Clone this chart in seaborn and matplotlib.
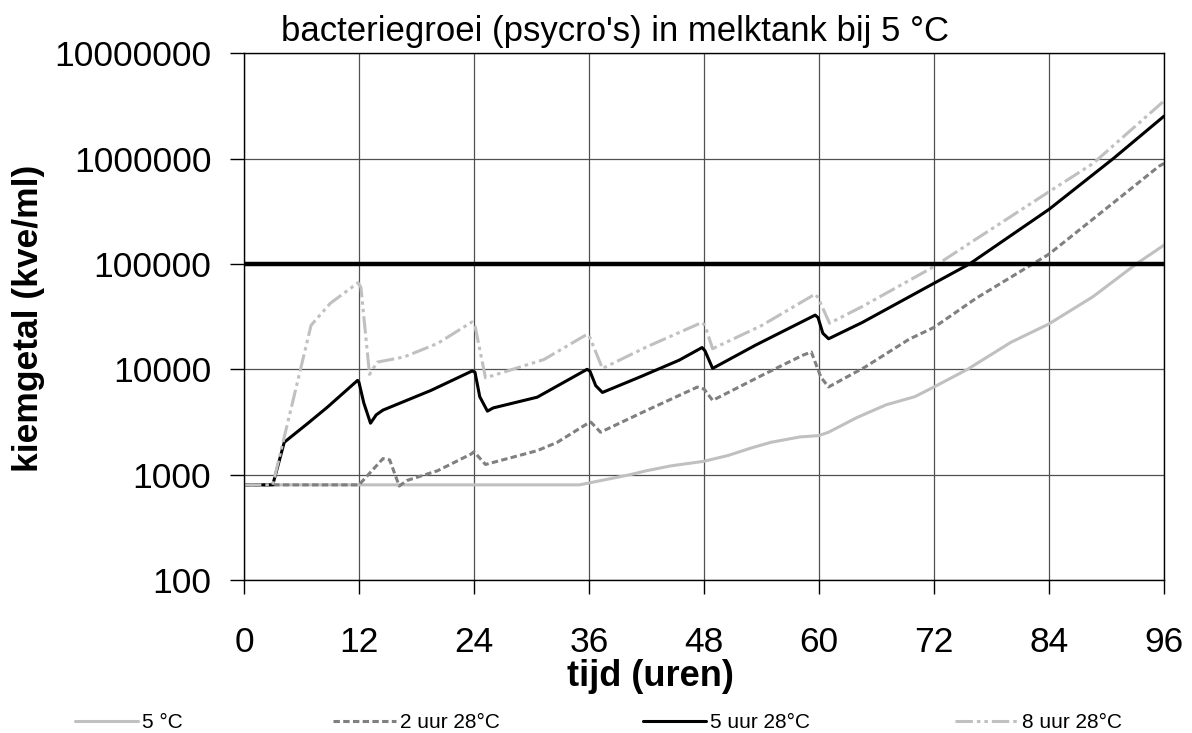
import matplotlib
matplotlib.use("Agg")
import matplotlib.pyplot as plt
import seaborn as sns
import numpy as np
from matplotlib.lines import Line2D
from matplotlib.ticker import NullLocator

# ---------------- data ----------------
title = "bacteriegroei (psycro's) in melktank bij 5 °C"
xlabel = "tijd (uren)"
ylabel = "kiemgetal (kve/ml)"
x_ticks = [0, 12, 24, 36, 48, 60, 72, 84, 96]
y_ticks = [100, 1000, 10000, 100000, 1000000, 10000000]
y_tick_labels = ["100", "1000", "10000", "100000", "1000000", "10000000"]

labels = ["5 °C", "2 uur 28°C", "5 uur 28°C", "8 uur 28°C"]

h_5c = [0, 35, 37, 40.3, 42, 44.5, 48, 50.5, 53, 55, 58, 60, 61, 64, 67, 70,
        72, 75.5, 80, 84, 88.6, 93.1, 96]
v_5c = [800, 800, 870, 1000, 1090, 1210, 1340, 1520, 1800, 2030, 2280, 2350,
        2530, 3500, 4600, 5500, 6800, 10000, 18000, 27000, 49000, 100000, 151000]

h_2u = [0, 12, 14.5, 15.2, 16.2, 17, 20.2, 23.7, 24, 25.2, 30.6, 32.7, 35.8,
        36.2, 37.2, 42, 47.3, 48, 48.9, 54.4, 58.3, 59.2, 60.2, 61, 64.8, 69.4,
        72, 76.4, 82.3, 84, 88.9, 95.5, 96]
v_2u = [800, 800, 1420, 1380, 780, 880, 1090, 1570, 1650, 1250, 1690, 2030, 3040,
        3150, 2530, 4070, 6780, 6500, 5070, 9100, 13600, 14600, 8400, 6800, 10500,
        19300, 25000, 47300, 100000, 124000, 281000, 850000, 900000]

h_5u = [0, 3.0, 4.2, 6.6, 8.7, 11.85, 12.0, 12.5, 13.2, 13.8, 14.5, 19.5, 23.8,
        24.1, 24.6, 25.4, 26.0, 30.6, 35.8, 36.1, 36.7, 37.4, 41.3, 45.4, 47.8,
        48.1, 48.9, 53.4, 59.6, 59.9, 60.4, 61, 64.5, 72, 75.7, 84, 90.7, 96]
v_5u = [800, 800, 2030, 3040, 4370, 7850, 7500, 4800, 3080, 3700, 4100, 6300, 9640,
        9400, 5500, 4010, 4300, 5440, 10000, 9600, 7000, 6030, 8450, 12200, 16100,
        15000, 10200, 17000, 32700, 31000, 22000, 19500, 27800, 65600, 100000,
        330000, 1000000, 2530000]

h_8u = [0, 3.0, 7.0, 9, 11.9, 12.2, 13.1, 13.9, 16.7, 20.2, 23.8, 24.1, 25.2,
        31.3, 35.8, 36.1, 37.4, 42, 47.8, 48.1, 48.9, 54, 59.6, 59.9, 61.1, 64.5,
        72, 75.7, 84, 88.6, 96]
v_8u = [800, 800, 26200, 42300, 66400, 60000, 8950, 11700, 13100, 17600, 28200,
        26000, 8300, 12400, 21500, 20000, 10200, 16300, 27900, 26000, 15700, 26000,
        51800, 48000, 27400, 39400, 94400, 157000, 485000, 900000, 3530000]

limit_h = [0, 96]
limit_v = [100000, 100000]

# ---------------- style ----------------
sns.set_theme(style="white")
plt.rcParams["font.family"] = ["Liberation Sans", "DejaVu Sans"]
plt.rcParams["lines.scale_dashes"] = False
plt.rcParams["text.color"] = "black"
plt.rcParams["axes.labelcolor"] = "black"
plt.rcParams["xtick.color"] = "black"
plt.rcParams["ytick.color"] = "black"

W, H = 1192, 733
fig = plt.figure(figsize=(W / 100, H / 100), dpi=100)
ax = fig.add_axes([244 / W, 1 - 580 / H, (1164 - 244) / W, (580 - 53.3) / H])

light = "#c0c0c0"
mid = "#808080"
lw = 2.2

pat_2u = (0, (4.6, 2.4))
pat_8u = (0, (12.5, 2.9, 2.5, 2.9, 2.5, 2.9))

series = [
    (h_5c, v_5c, light, "-"),
    (h_2u, v_2u, mid, pat_2u),
    (h_5u, v_5u, "black", "-"),
    (h_8u, v_8u, light, pat_8u),
]

for hh, vv, col, ls in series:
    sns.lineplot(x=hh, y=vv, ax=ax, color=col, linewidth=lw, estimator=None,
                 sort=False, legend=False)
    ln = ax.lines[-1]
    ln.set_linestyle(ls)
    ln.set_solid_joinstyle("round")

sns.lineplot(x=limit_h, y=limit_v, ax=ax, color="black", linewidth=3.2,
             estimator=None, sort=False, legend=False)

ax.set_yscale("log")
ax.set_xlim(0, 96)
ax.set_ylim(100, 10000000)
ax.set_xticks(x_ticks)
ax.set_xticklabels([str(t) for t in x_ticks])
ax.set_yticks(y_ticks)
ax.set_yticklabels(y_tick_labels)
ax.yaxis.set_minor_locator(NullLocator())
ax.xaxis.set_minor_locator(NullLocator())
ax.set_xlabel("")
ax.set_ylabel("")

ax.grid(True, which="major", color="#505050", linewidth=0.9)
ax.set_axisbelow(True)
for sp in ax.spines.values():
    sp.set_color("black")
    sp.set_linewidth(1.0)

ax.tick_params(axis="both", which="major", direction="out", length=10, width=1,
               color="black", labelsize=25.5, labelcolor="black",
               bottom=True, left=True, top=False, right=False)
ax.tick_params(axis="y", pad=13.5)
ax.tick_params(axis="x", pad=23)

fig.text(615 / W, 1 - 31 / H, title, fontsize=25, ha="center", va="center",
         color="black")
fig.text(650 / W, 1 - 677 / H, xlabel, fontsize=26, fontweight="bold",
         ha="center", va="center", color="black")
fig.text(29 / W, 1 - 318.5 / H, ylabel, fontsize=25.5, fontweight="bold",
         rotation=90, ha="center", va="center", color="black")

# legend: four separate entries spread along the bottom
leg_x = [75, 333, 643, 955]
styles = [(light, "-"), (mid, pat_2u), ("black", "-"), (light, pat_8u)]
for lab, x0, (col, ls) in zip(labels, leg_x, styles):
    handle = Line2D([], [], color=col, linewidth=lw, linestyle=ls)
    leg = fig.legend(handles=[handle], labels=[lab], loc="center left",
                     bbox_to_anchor=(x0 / W, 1 - 723 / H), frameon=False,
                     fontsize=15, handlelength=3.0, handletextpad=0.2,
                     borderpad=0, borderaxespad=0)
    for t in leg.get_texts():
        t.set_color("black")

fig.savefig("out.png", dpi=100)
